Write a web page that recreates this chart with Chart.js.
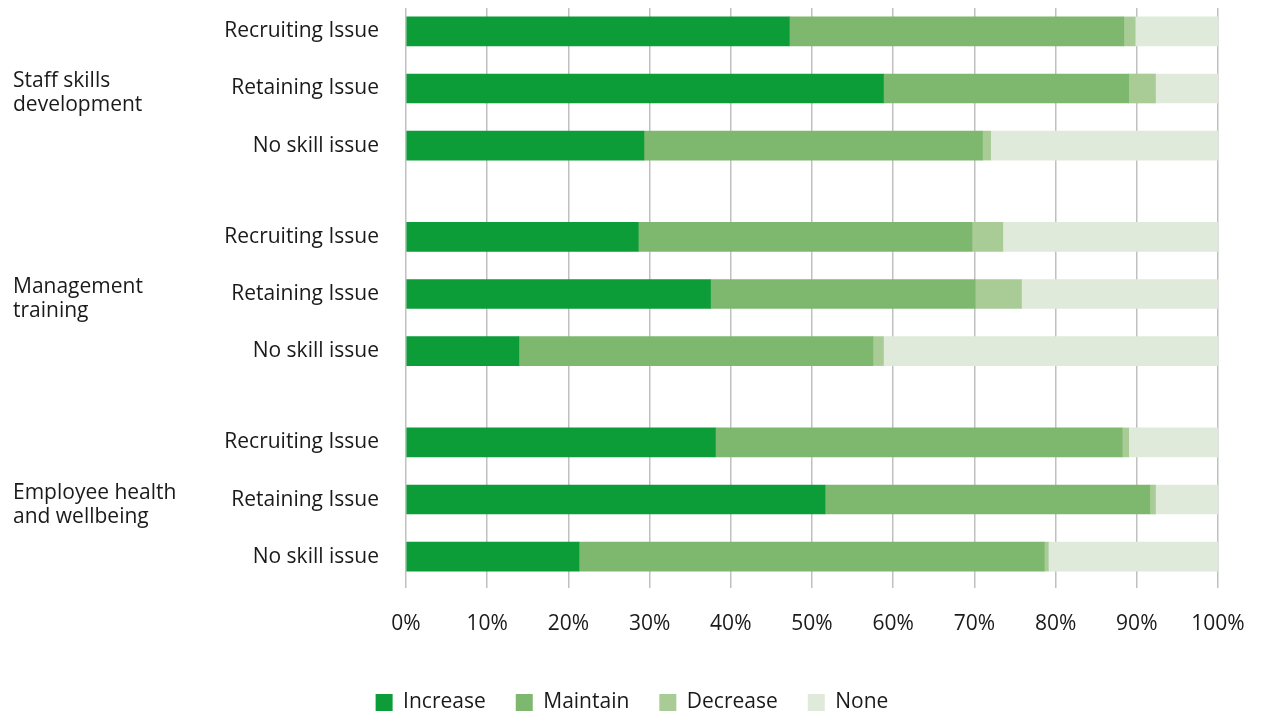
<!DOCTYPE html>
<html lang="en">
<head>
  <meta charset="UTF-8">
  <title>Skills issues and training plans</title>
  <script src="https://cdn.jsdelivr.net/npm/chart.js"></script>
  <style>
    html, body { margin: 0; padding: 0; background: #fff; overflow: hidden; }
    .chart-box { position: relative; width: 1264px; height: 723px; }
  </style>
</head>
<body>
  <div class="chart-box"><canvas id="chart"></canvas></div>

  <script>
    // rows top to bottom; positions leave a gap between the three groups
    const rowLabels = [
      "Recruiting Issue", "Retaining Issue", "No skill issue",
      "Recruiting Issue", "Retaining Issue", "No skill issue",
      "Recruiting Issue", "Retaining Issue", "No skill issue"
    ];
    const rowPositions = [0, 1, 2, 3.6, 4.6, 5.6, 7.2, 8.2, 9.2];
    const groupLabels = [
      ["Staff skills", "development"],
      ["Management", "training"],
      ["Employee health", "and wellbeing"]
    ];
    const groupCentres = [1, 4.6, 8.2];

    // share of employers (%)
    const seriesNames = ["Increase", "Maintain", "Decrease", "None"];
    const increase = [47.2, 58.8, 29.3, 28.6, 37.5, 13.9, 38.1, 51.6, 21.3];
    const maintain = [41.2, 30.2, 41.7, 41.1, 32.6, 43.6, 50.1, 40.0, 57.3];
    const decrease = [1.4, 3.3, 1.0, 3.8, 5.7, 1.3, 0.8, 0.7, 0.5];
    const none     = [10.2, 7.7, 28.0, 26.5, 24.2, 41.2, 11.0, 7.7, 20.9];
    const colours = ["#0c9c38", "#7eb86f", "#a9cc97", "#dfeada"];

    const textColour = "#1a1a1a";
    const labelFont = { family: "Open Sans", size: 21 };
    Chart.defaults.font.family = "Open Sans";

    const datasets = [increase, maintain, decrease, none].map((values, s) => ({
      label: seriesNames[s],
      data: rowPositions.map((pos, i) => ({ x: values[i], y: pos })),
      backgroundColor: colours[s],
      borderWidth: 0,
      barThickness: 29
    }));

    // two-line group names to the left of the row labels
    const groupLabelPlugin = {
      id: "groupLabels",
      afterDraw(chart) {
        const { ctx } = chart;
        const yScale = chart.scales.y;
        ctx.save();
        ctx.font = "21px 'Open Sans'";
        ctx.fillStyle = textColour;
        ctx.textAlign = "left";
        ctx.textBaseline = "middle";
        groupLabels.forEach((lines, g) => {
          const yc = yScale.getPixelForValue(groupCentres[g]) + 5;
          lines.forEach((line, k) => ctx.fillText(line, 13, yc + (k - 0.5) * 24));
        });
        ctx.restore();
      }
    };

    // keep the tick labels from pushing the plot area inwards
    function noLabelPadding(scale) {
      scale.paddingTop = 0;
      scale.paddingBottom = 0;
      scale.paddingLeft = 0;
      scale.paddingRight = 0;
    }

    new Chart(document.getElementById("chart"), {
      type: "bar",
      data: { datasets },
      options: {
        indexAxis: "y",
        responsive: true,
        maintainAspectRatio: false,
        animation: false,
        layout: { padding: { top: 8, right: 46, bottom: 0, left: 46 } },
        scales: {
          x: {
            stacked: true,
            min: 0,
            max: 100,
            ticks: {
              stepSize: 10,
              callback: v => v + "%",
              font: labelFont,
              color: textColour,
              padding: 23
            },
            grid: { color: "#c0c0c0", lineWidth: 1.5, drawTicks: false },
            border: { display: false },
            afterFit: scale => {
              noLabelPadding(scale);
              scale.height = 74;
            }
          },
          y: {
            type: "linear",
            stacked: true,
            reverse: true,
            offset: false,
            min: -0.41,
            max: 9.75,
            afterBuildTicks: scale => {
              scale.ticks = rowPositions.map(v => ({ value: v }));
            },
            ticks: {
              autoSkip: false,
              padding: 27,
              callback: (v, i) => rowLabels[i],
              font: labelFont,
              color: textColour
            },
            grid: { display: false, drawTicks: false },
            border: { display: false },
            afterFit: scale => {
              noLabelPadding(scale);
              scale.width = 360;
            }
          }
        },
        plugins: {
          legend: {
            position: "bottom",
            labels: {
              boxWidth: 17,
              boxHeight: 17,
              padding: 30,
              font: labelFont,
              color: textColour
            }
          },
          tooltip: { enabled: false }
        }
      },
      plugins: [groupLabelPlugin]
    });
  </script>
</body>
</html>
